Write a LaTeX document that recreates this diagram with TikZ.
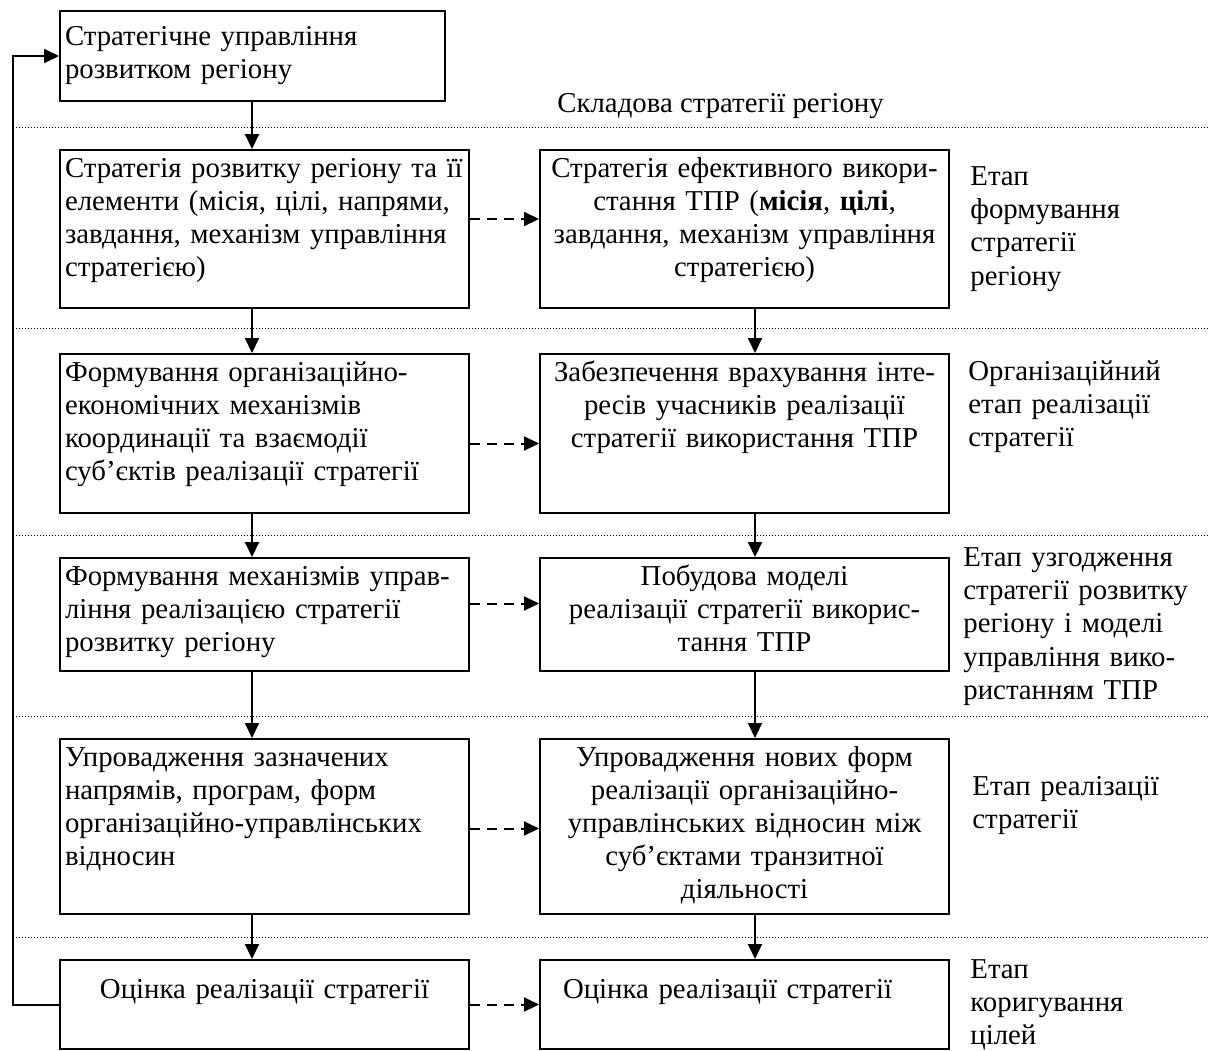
\documentclass[tikz,border=0pt]{standalone}
\usepackage{fontspec}
\setmainfont{Liberation Serif}
\usetikzlibrary{arrows.meta}

\begin{document}
\begin{tikzpicture}[x=0.5pt,y=-0.5pt,
  font=\fontsize{14.4}{16.6}\selectfont,
  blok/.style={draw, line width=1pt, anchor=north west, inner xsep=2.5pt,
    inner ysep=3pt, text width=199.5pt, text height=10.5pt, text depth=#1},
  lblok/.style={blok=#1, align=left},
  rblok/.style={blok=#1, align=center},
  etap/.style={anchor=north west, inner sep=0pt, text width=125pt,
    align=left, text height=10pt},
  strilka/.style={line width=1pt, -{Triangle[length=7.5pt,width=7pt]}},
  punktyr/.style={strilka, dash pattern=on 5pt off 3.5pt},
  mezha/.style={line width=0.5pt, dash pattern=on 0.5pt off 1pt}]
  \useasboundingbox (0,0) rectangle (1208,1050);

  % Верхній блок
  \node[lblok=25pt, text width=187.5pt, text height=14pt] (top) at (59,10)
    {Стратегічне управління\\розвитком регіону};
  \node[anchor=north west, inner sep=0pt, text height=10pt] (sklad) at (557,92)
    {Складова стратегії регіону};

  % Межі етапів
  \foreach \y in {127,328,535,716,937}
    \draw[mezha] (13,\y) -- (1208,\y);

  % Ліва колонка
  \node[lblok=62.5pt] (l1) at (59,149)
    {\mbox{Стратегія розвитку регіону та її}\\елементи (місія, цілі, напрями,\\завдання, механізм управління\\стратегією)};
  \node[lblok=63pt] (l2) at (59,353)
    {Формування організаційно-\\економічних механізмів\\координації та взаємодії\\суб’єктів реалізації стратегії};
  \node[lblok=40pt] (l3) at (59,557)
    {Формування механізмів управ-\\ління реалізацією стратегії\\розвитку регіону};
  \node[lblok=71pt] (l4) at (59,738)
    {Упровадження зазначених\\напрямів, програм, форм\\організаційно-управлінських\\відносин};
  \node[rblok=22.5pt, text height=16pt] (l5) at (59,959)
    {Оцінка реалізації стратегії};

  % Права колонка
  \node[rblok=62.5pt] (r1) at (539,149)
    {Стратегія ефективного викори-\\стання ТПР (\textbf{місія}, \textbf{цілі},\\завдання, механізм управління\\стратегією)};
  \node[rblok=63pt] (r2) at (539,353)
    {Забезпечення врахування інте-\\ресів учасників реалізації\\стратегії використання ТПР};
  \node[rblok=40pt] (r3) at (539,557)
    {Побудова моделі\\реалізації стратегії викорис-\\тання ТПР};
  \node[rblok=71pt] (r4) at (539,738)
    {Упровадження нових форм\\реалізації організаційно-\\управлінських відносин між\\суб’єктами транзитної\\діяльності};
  \node[lblok=22.5pt, text height=16pt] (r5) at (539,959)
    {\hspace*{9pt}Оцінка реалізації стратегії};

  % Етапи
  \node[etap] (e1) at (970,165) {Етап\\формування\\стратегії\\регіону};
  \node[etap] (e2) at (968,360) {Організаційний\\етап реалізації\\стратегії};
  \node[etap] (e3) at (963,546) {Етап узгодження\\стратегії розвитку\\регіону і моделі\\управління вико-\\ристанням ТПР};
  \node[etap] (e4) at (972,775) {Етап реалізації\\стратегії};
  \node[etap] (e5) at (970,958) {Етап\\коригування\\цілей};

  % Стрілки
  \coordinate (kl) at (252,0);
  \coordinate (kr) at (755,0);
  \coordinate (zv) at (13,0);
  \draw[strilka] (top.south -| kl) -- (l1.north -| kl);
  \foreach \a/\b in {l1/l2,l2/l3,l3/l4,l4/l5}
    \draw[strilka] (\a.south -| kl) -- (\b.north -| kl);
  \foreach \a/\b in {r1/r2,r2/r3,r3/r4,r4/r5}
    \draw[strilka] (\a.south -| kr) -- (\b.north -| kr);
  \foreach \a/\b/\s in {l1/r1/5pt,l2/r2/-5pt,l3/r3/5.5pt,l4/r4/-1pt,l5/r5/0pt}
    \draw[punktyr] ([yshift=\s]\a.east) -- ([yshift=\s]\b.west);
  \draw[strilka] (l5.west) -- (l5.west -| zv) |- (top.west);
\end{tikzpicture}
\end{document}
